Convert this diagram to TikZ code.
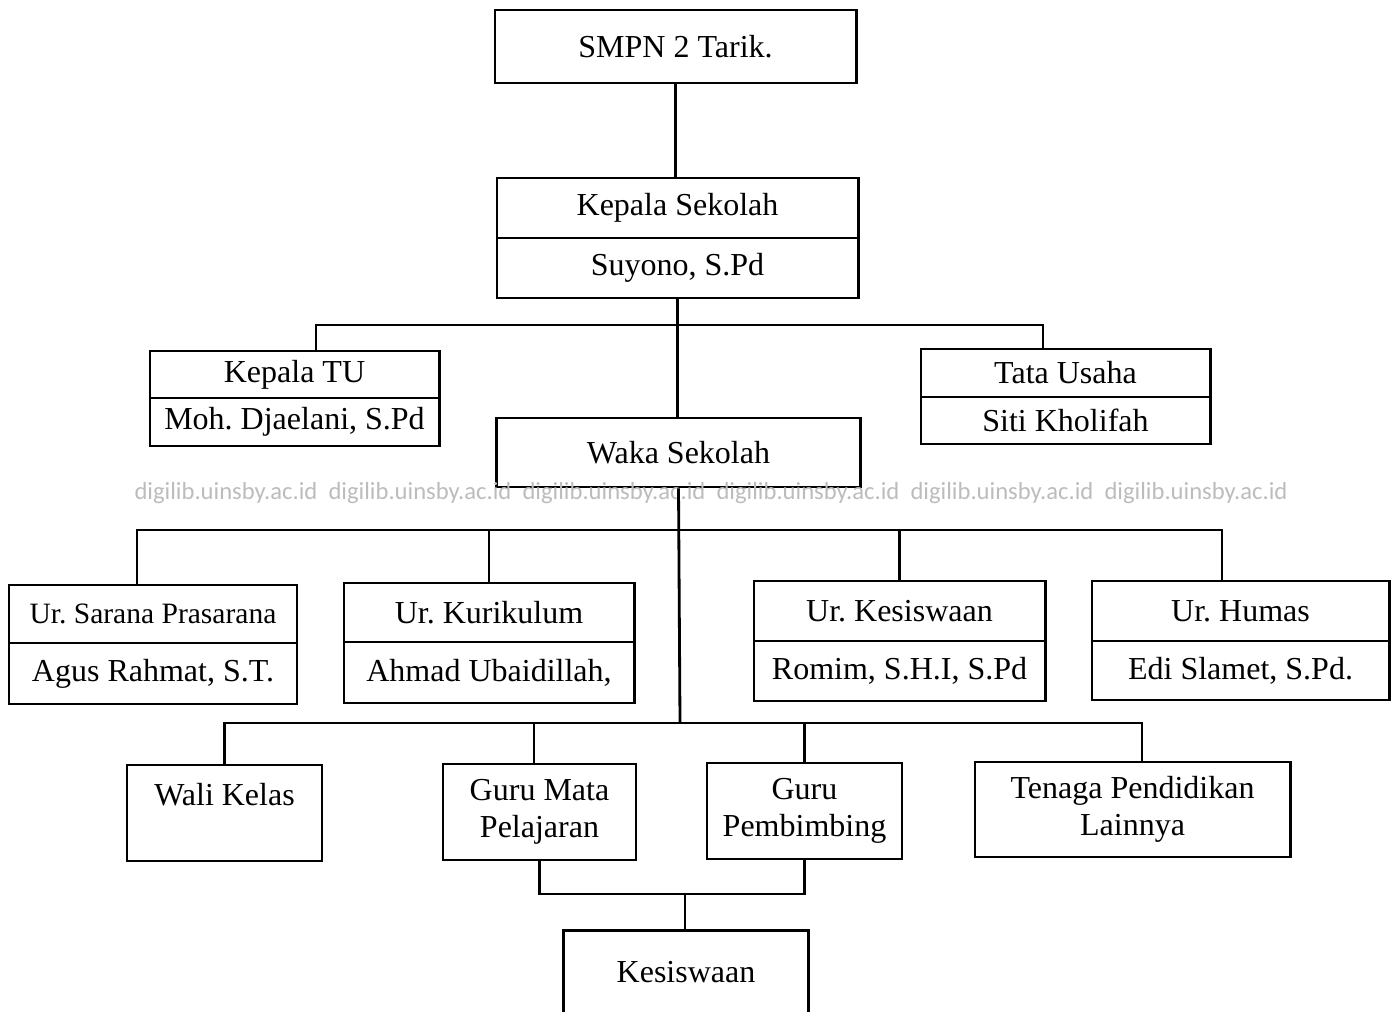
\documentclass[tikz,border=0pt]{standalone}
\usepackage{fontspec}
\setmainfont{Liberation Serif}
\newfontfamily\wmfont{Carlito}
\definecolor{wmgray}{RGB}{188,188,188}

\begin{document}
\begin{tikzpicture}[x=0.01cm, y=-0.01cm,
    unit/.style ={draw, line width=0.8pt, rectangle, inner sep=0pt, align=center,
                  font=\fontsize{9.1}{10.4}\selectfont},
    link/.style ={line width=0.8pt},
    watermark/.style ={text=wmgray, font=\wmfont\fontsize{7}{8}\selectfont}]
   \useasboundingbox (0,0) rectangle (1398,1011);
   \node[unit, minimum width=3.61cm, minimum height=0.73cm] (smpn) at (675.5,46.5) {SMPN 2 Tarik.};
   \node[unit, minimum width=3.61cm, minimum height=0.60cm] (ks) at (677.5,208) {Kepala Sekolah};
   \node[unit, minimum width=3.61cm, minimum height=0.60cm] (ksn) at (677.5,268) {Suyono, S.Pd};
   \node[unit, minimum width=2.89cm, minimum height=0.47cm] (ktu) at (294.5,374.5) {Kepala TU};
   \node[unit, minimum width=2.89cm, minimum height=0.48cm] (ktun) at (294.5,422) {Moh.\ Djaelani, S.Pd};
   \node[unit, minimum width=2.89cm, minimum height=0.48cm] (tu) at (1065.5,373) {Tata Usaha};
   \node[unit, minimum width=2.89cm, minimum height=0.47cm] (tun) at (1065.5,420.5) {Siti Kholifah};
   \node[unit, minimum width=3.63cm, minimum height=0.69cm] (waka) at (678.5,452.5) {Waka Sekolah};
   \foreach \px in {226,420,614,808,1002,1196}
     \node[watermark] at (\px,493) {digilib.uinsby.ac.id};
   \node[unit, minimum width=2.88cm, minimum height=0.58cm, font=\fontsize{8.4}{10}\selectfont] (sar) at (153,614) {Ur.\ Sarana Prasarana};
   \node[unit, minimum width=2.88cm, minimum height=0.61cm] (sarn) at (153,673.5) {Agus Rahmat, S.T.};
   \node[unit, minimum width=2.90cm, minimum height=0.59cm] (kur) at (489,612.5) {Ur.\ Kurikulum};
   \node[unit, minimum width=2.90cm, minimum height=0.61cm] (kurn) at (489,672.5) {Ahmad Ubaidillah,};
   \node[unit, minimum width=2.91cm, minimum height=0.60cm] (ksw) at (899.5,611) {Ur.\ Kesiswaan};
   \node[unit, minimum width=2.91cm, minimum height=0.60cm] (kswn) at (899.5,671) {Romim, S.H.I, S.Pd};
   \node[unit, minimum width=2.97cm, minimum height=0.60cm] (hum) at (1240.5,611) {Ur.\ Humas};
   \node[unit, minimum width=2.97cm, minimum height=0.59cm] (humn) at (1240.5,670.5) {Edi Slamet, S.Pd.};
   \node[unit, minimum width=1.95cm, minimum height=0.96cm] (wali) at (224.5,813) {Wali Kelas\\~};
   \node[unit, minimum width=1.93cm, minimum height=0.96cm] (gmp) at (539.5,812) {Guru Mata\\Pelajaran};
   \node[unit, minimum width=1.95cm, minimum height=0.96cm] (gbk) at (804.5,811) {Guru\\Pembimbing};
   \node[unit, minimum width=3.15cm, minimum height=0.95cm] (tpl) at (1132.5,809.5) {Tenaga Pendidikan\\Lainnya};
   \node[unit, draw=none, minimum width=2.42cm, minimum height=0.80cm] (kes) at (686,972) {Kesiswaan};
   \draw[link] (kes.south west) -- (kes.north west) -- (kes.north east) -- (kes.south east);
   \coordinate (bus1) at (677,325);
   \coordinate (bus2) at (679,530);
   \coordinate (bus3) at (680,723);
   \coordinate (bus4) at (685,894);
   \draw[link] (smpn.south) -- (smpn.south |- ks.north);
   \draw[link] (ksn.south) -- (ksn.south |- waka.north);
   \draw[link] ([xshift=2.15mm]ktu.north) |- (bus1) -| ([xshift=-2.25mm]tu.north);
   \draw[link] (waka.south) -- (bus3);
   \draw[link] ([xshift=-1.6mm]sar.north) |- (bus2) -| ([xshift=-1.85mm]hum.north);
   \draw[link] (kur.north) -- (kur.north |- bus2);
   \draw[link] (ksw.north) -- (ksw.north |- bus2);
   \draw[link] (wali.north) |- (bus3) -| ([xshift=0.95mm]tpl.north);
   \draw[link] ([xshift=-0.55mm]gmp.north) -- ([xshift=-0.55mm]gmp.north |- bus3);
   \draw[link] (gbk.north) -- (gbk.north |- bus3);
   \draw[link] (gmp.south) |- (bus4) -| (gbk.south);
   \draw[link] (bus4) -- (bus4 |- kes.north);
 \end{tikzpicture}
\end{document}
